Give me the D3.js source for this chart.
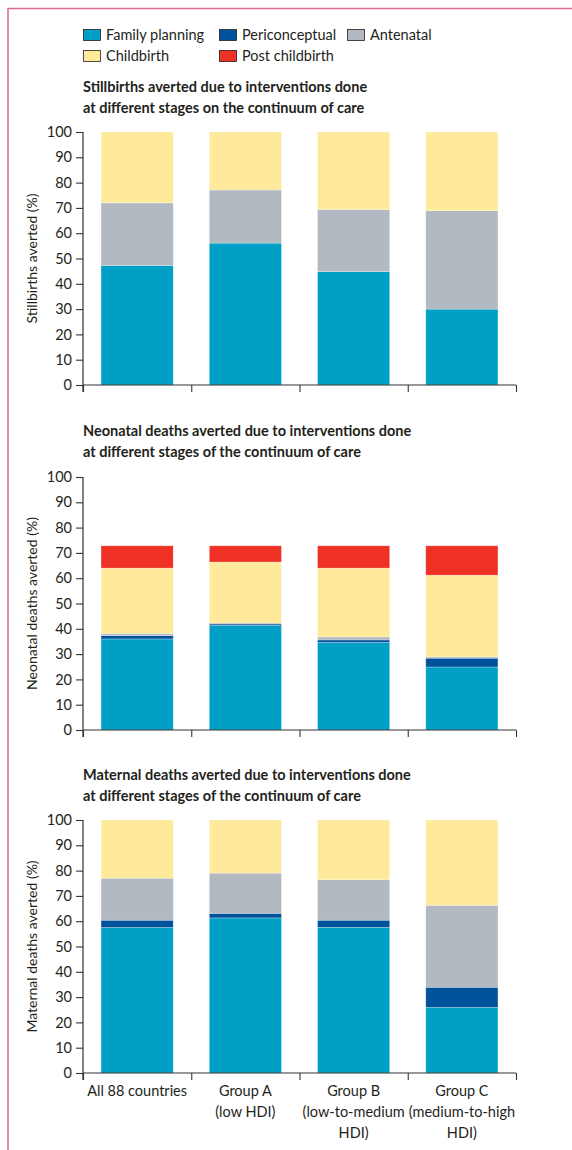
<!DOCTYPE html>
<html>
<head>
<meta charset="utf-8">
<script src="https://cdn.jsdelivr.net/npm/d3@7"></script>
<style>
  html, body { margin: 0; padding: 0; background: #fff; }
  svg { display: block; }
  text { font-family: Lato, "Open Sans", sans-serif; fill: #231f20; }
</style>
</head>
<body>
<svg id="chart" width="572" height="1150"></svg>
<script>
// Groups of countries on the x axis (multi-line labels)
const categories = ["All 88 countries", "Group A", "Group B", "Group C"];
const categoryLabels = [
  ["All 88 countries"],
  ["Group A", "(low HDI)"],
  ["Group B", "(low-to-medium", "HDI)"],
  ["Group C", "(medium-to-high", "HDI)"]
];

// Stages on the continuum of care
const stages = ["Family planning", "Periconceptual", "Antenatal", "Childbirth", "Post childbirth"];
const stageColors = ["#00a0c6", "#00529b", "#b2b9c0", "#feea9a", "#ee3124"];

// Stillbirths averted (%), share by stage
const stillFamilyPlanning = [47.2, 56.1, 44.8, 30.0];
const stillPericonceptual = [0, 0, 0, 0];
const stillAntenatal      = [24.8, 21.0, 24.6, 38.9];
const stillChildbirth     = [28.0, 22.9, 30.6, 31.1];
const stillPostChildbirth = [0, 0, 0, 0];

// Neonatal deaths averted (%), share by stage
const neoFamilyPlanning = [36.0, 41.3, 34.6, 24.9];
const neoPericonceptual = [1.3, 0.6, 1.0, 3.5];
const neoAntenatal      = [0.8, 0.4, 1.2, 0.5];
const neoChildbirth     = [25.9, 24.1, 27.2, 32.3];
const neoPostChildbirth = [8.8, 6.4, 8.8, 11.6];

// Maternal deaths averted (%), share by stage
const matFamilyPlanning = [57.5, 61.3, 57.6, 25.9];
const matPericonceptual = [2.9, 1.8, 2.8, 8.0];
const matAntenatal      = [16.6, 15.9, 16.0, 32.4];
const matChildbirth     = [23.0, 21.0, 23.6, 33.7];
const matPostChildbirth = [0, 0, 0, 0];

const yTicks = [0, 10, 20, 30, 40, 50, 60, 70, 80, 90, 100];

const panels = [
  {
    title: ["Stillbirths averted due to interventions done", "at different stages on the continuum of care"],
    yLabel: "Stillbirths averted (%)",
    series: [stillFamilyPlanning, stillPericonceptual, stillAntenatal, stillChildbirth, stillPostChildbirth],
    top: 132, bottom: 385, titleY: 92
  },
  {
    title: ["Neonatal deaths averted due to interventions done", "at different stages of the continuum of care"],
    yLabel: "Neonatal deaths averted (%)",
    series: [neoFamilyPlanning, neoPericonceptual, neoAntenatal, neoChildbirth, neoPostChildbirth],
    top: 477, bottom: 730, titleY: 436
  },
  {
    title: ["Maternal deaths averted due to interventions done", "at different stages of the continuum of care"],
    yLabel: "Maternal deaths averted (%)",
    series: [matFamilyPlanning, matPericonceptual, matAntenatal, matChildbirth, matPostChildbirth],
    top: 820, bottom: 1073, titleY: 780
  }
];

const svg = d3.select("#chart");
const left = 83, right = 516;
const axisColor = "#333";

// Frame
svg.append("path")
  .attr("d", `M8,1150 V8.5 H572`)
  .attr("fill", "none")
  .attr("stroke", "#dc6a8c")
  .attr("stroke-width", 1.5);

// Legend
const legendItems = [
  { i: 0, x: 83, y: 35 }, { i: 1, x: 219, y: 35 }, { i: 2, x: 347, y: 35 },
  { i: 3, x: 83, y: 56 }, { i: 4, x: 219, y: 56 }
];
const legend = svg.append("g");
legendItems.forEach(d => {
  legend.append("rect")
    .attr("x", d.x + 0.5).attr("y", d.y - 5.5)
    .attr("width", 17).attr("height", 11)
    .attr("fill", stageColors[d.i])
    .attr("stroke", "#231f20").attr("stroke-width", 0.8);
  legend.append("text")
    .attr("x", d.x + 23).attr("y", d.y + 5)
    .attr("font-size", 14.5)
    .text(stages[d.i]);
});

const x = d3.scaleBand()
  .domain(categories)
  .range([left, right])
  .paddingInner(1 / 3)
  .paddingOuter(1 / 6);

// Boundary positions between the groups
const boundary = d3.scaleLinear().domain([0, categories.length]).range([left, right]);

const stack = d3.stack().keys(d3.range(stages.length));

panels.forEach((p, pi) => {
  const g = svg.append("g");
  const y = d3.scaleLinear().domain([0, 100]).range([p.bottom, p.top]);

  // Title
  p.title.forEach((line, li) => {
    g.append("text")
      .attr("x", left)
      .attr("y", p.titleY + li * 20.5)
      .attr("font-size", 14.5)
      .attr("font-weight", "bold")
      .text(line);
  });

  // Stacked bars
  const rows = categories.map((c, ci) => p.series.map(s => s[ci]));
  const layers = stack(rows);
  layers.forEach((layer, si) => {
    g.append("g")
      .selectAll("rect")
      .data(layer.map((d, ci) => ({ d, c: categories[ci] })))
      .join("rect")
      .filter(r => r.d[1] - r.d[0] > 0)
      .attr("x", r => x(r.c))
      .attr("width", x.bandwidth())
      .attr("y", r => y(r.d[1]))
      .attr("height", r => y(r.d[0]) - y(r.d[1]))
      .attr("fill", stageColors[si])
      .attr("stroke", "rgba(255,255,255,0.45)")
      .attr("stroke-width", 0.6);
  });

  // Y axis
  const yAxis = g.append("g")
    .attr("transform", `translate(${left},0)`)
    .call(d3.axisLeft(y).tickValues(yTicks).tickSize(7).tickPadding(4));
  yAxis.select(".domain").attr("stroke", axisColor).attr("stroke-width", 1.2).attr("d", `M0,${p.top}V${p.bottom + 7}`);
  yAxis.selectAll(".tick line").attr("stroke", axisColor).attr("stroke-width", 1.1);
  yAxis.selectAll(".tick text")
    .attr("font-size", 14.5)
    .attr("font-family", "Lato, 'Open Sans', sans-serif")
    .attr("fill", "#231f20");

  // X axis with ticks at group boundaries
  const xAxis = g.append("g")
    .attr("transform", `translate(0,${p.bottom})`)
    .call(d3.axisBottom(boundary).tickValues(d3.range(categories.length + 1)).tickSize(7).tickFormat(""));
  xAxis.select(".domain").attr("stroke", axisColor).attr("stroke-width", 1.2).attr("d", `M${left},0H${right}`);
  xAxis.selectAll(".tick line").attr("stroke", axisColor).attr("stroke-width", 1.1);

  // Y axis title
  g.append("text")
    .attr("transform", `translate(37,${(p.top + p.bottom) / 2}) rotate(-90)`)
    .attr("text-anchor", "middle")
    .attr("font-size", 14)
    .text(p.yLabel);

  // Category labels under the last panel
  if (pi === panels.length - 1) {
    categories.forEach((c, ci) => {
      categoryLabels[ci].forEach((line, li) => {
        g.append("text")
          .attr("x", x(c) + x.bandwidth() / 2)
          .attr("y", p.bottom + 23 + li * 21)
          .attr("text-anchor", "middle")
          .attr("font-size", 14.5)
          .text(line);
      });
    });
  }
});
</script>
</body>
</html>
